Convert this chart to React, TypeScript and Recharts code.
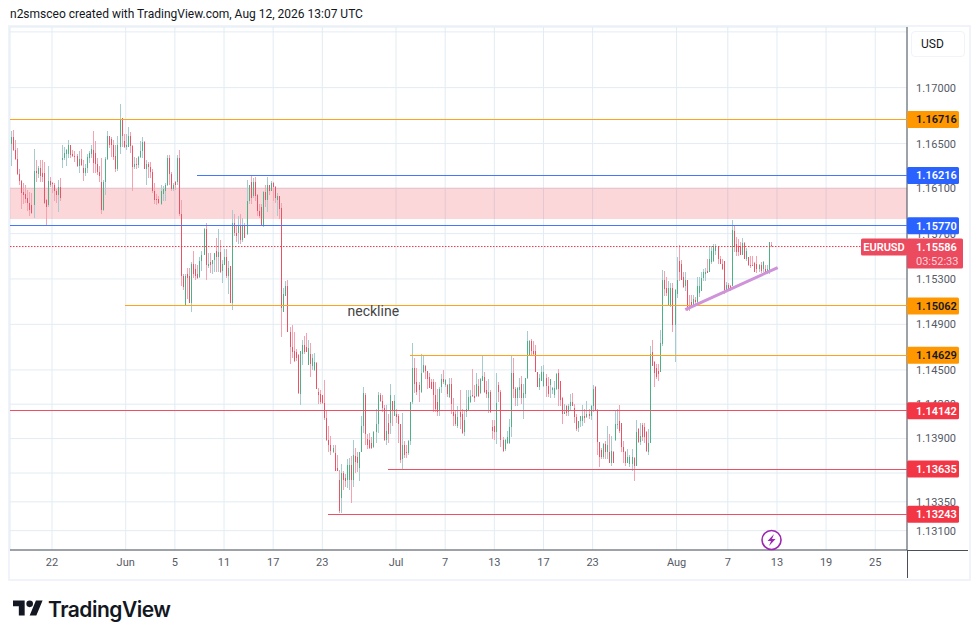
import { Bar, CartesianGrid, ComposedChart, ReferenceArea, ReferenceDot, ReferenceLine, XAxis, YAxis } from "recharts";

// 4h EURUSD candles, prices in 1/10000
const opens = [
  11650,11656,11644,11636,11623,11617,11607,11605,11602,11597,11595,11595,11626,11623,11628,11624,11624,11600,11595,11617,
  11615,11613,11608,11604,11611,11635,11637,11641,11641,11649,11641,11639,11639,11630,11636,11628,11624,11628,11637,11641,
  11644,11642,11632,11625,11616,11591,11616,11636,11657,11654,11649,11639,11627,11647,11673,11652,11647,11647,11657,11648,
  11629,11632,11631,11638,11643,11651,11627,11632,11629,11625,11608,11601,11601,11596,11605,11608,11613,11637,11623,11610,
  11616,11616,11637,11587,11533,11507,11534,11533,11509,11543,11539,11534,11532,11546,11551,11574,11541,11545,11543,11547,
  11555,11549,11554,11537,11542,11549,11533,11541,11509,11579,11571,11571,11577,11564,11578,11570,11599,11616,11603,11616,
  11604,11590,11594,11578,11607,11600,11613,11608,11615,11611,11600,11603,11593,11501,11515,11524,11483,11470,11467,11466,
  11463,11429,11464,11472,11470,11454,11464,11453,11450,11456,11431,11429,11428,11421,11408,11389,11384,11378,11377,11364,
  11354,11338,11360,11356,11354,11354,11367,11354,11375,11374,11364,11378,11401,11428,11390,11389,11386,11383,11396,11403,
  11428,11423,11417,11389,11404,11404,11423,11410,11411,11410,11403,11372,11384,11378,11377,11388,11422,11452,11439,11437,
  11431,11448,11453,11449,11444,11439,11439,11428,11422,11414,11435,11442,11437,11437,11426,11438,11413,11411,11401,11413,
  11411,11396,11413,11415,11422,11428,11427,11427,11436,11430,11440,11444,11432,11425,11431,11400,11401,11396,11437,11431,
  11389,11381,11386,11386,11400,11447,11433,11425,11432,11438,11425,11429,11443,11462,11475,11467,11467,11448,11435,11440,
  11436,11443,11436,11437,11432,11428,11433,11447,11440,11425,11411,11418,11413,11418,11422,11417,11409,11399,11405,11405,
  11410,11409,11411,11410,11418,11435,11415,11387,11380,11374,11385,11378,11378,11369,11378,11389,11402,11405,11404,11383,
  11378,11369,11368,11368,11373,11366,11398,11387,11402,11400,11396,11378,11386,11466,11457,11452,11449,11448,11473,11529,
  11522,11506,11507,11522,11489,11517,11546,11543,11532,11524,11529,11506,11510,11506,11511,11510,11518,11519,11531,11534,
  11537,11536,11545,11546,11555,11558,11548,11543,11546,11520,11525,11524,11524,11572,11561,11559,11559,11551,11562,11548,
  11549,11542,11542,11544,11543,11539,11542,11539,11539,11536,11536,11560,
];
const highs = [
  11661,11662,11653,11646,11627,11618,11615,11613,11609,11607,11606,11645,11635,11630,11635,11635,11634,11601,11630,11620,
  11616,11615,11610,11618,11619,11649,11647,11645,11653,11649,11644,11643,11641,11643,11645,11635,11632,11641,11643,11649,
  11661,11652,11637,11630,11637,11618,11638,11661,11657,11656,11653,11649,11657,11685,11673,11659,11659,11665,11660,11649,
  11638,11637,11639,11652,11656,11652,11635,11634,11634,11627,11615,11605,11603,11613,11612,11615,11640,11640,11625,11615,
  11617,11640,11644,11600,11534,11534,11540,11540,11545,11555,11543,11542,11549,11555,11575,11579,11553,11553,11547,11553,
  11566,11574,11564,11547,11556,11556,11546,11541,11591,11587,11577,11586,11587,11584,11579,11618,11613,11622,11619,11620,
  11605,11596,11596,11608,11613,11620,11613,11617,11616,11612,11606,11603,11597,11522,11528,11529,11488,11489,11483,11468,
  11464,11467,11476,11480,11482,11476,11474,11464,11465,11457,11434,11432,11428,11441,11414,11401,11392,11384,11384,11376,
  11363,11368,11362,11359,11372,11373,11375,11389,11382,11378,11378,11410,11435,11430,11394,11395,11391,11397,11416,11431,
  11430,11428,11419,11419,11411,11438,11423,11428,11416,11411,11403,11412,11388,11384,11389,11422,11474,11460,11452,11439,
  11464,11463,11454,11449,11447,11442,11442,11439,11433,11435,11446,11450,11442,11438,11443,11443,11425,11414,11418,11432,
  11416,11415,11432,11432,11432,11451,11437,11447,11442,11443,11462,11448,11440,11442,11432,11406,11406,11447,11439,11432,
  11391,11390,11397,11407,11463,11460,11435,11435,11443,11445,11438,11443,11484,11476,11477,11475,11472,11448,11446,11453,
  11454,11446,11444,11442,11435,11440,11447,11451,11440,11426,11420,11419,11420,11429,11430,11420,11411,11405,11410,11419,
  11416,11423,11416,11419,11437,11436,11416,11387,11382,11386,11388,11401,11394,11392,11379,11414,11416,11419,11404,11388,
  11379,11381,11376,11381,11374,11406,11399,11404,11404,11404,11397,11398,11471,11476,11458,11455,11455,11485,11538,11537,
  11532,11528,11526,11526,11521,11549,11560,11547,11536,11536,11529,11516,11516,11516,11514,11532,11532,11536,11539,11540,
  11548,11559,11559,11561,11561,11559,11550,11548,11546,11527,11526,11525,11582,11577,11567,11565,11563,11566,11563,11557,
  11549,11550,11550,11545,11550,11543,11545,11546,11542,11542,11563,11563,
];
const lows = [
  11630,11643,11635,11622,11613,11592,11596,11597,11590,11586,11587,11584,11616,11619,11616,11616,11596,11577,11594,11611,
  11606,11599,11597,11589,11599,11628,11635,11630,11637,11637,11638,11634,11629,11624,11630,11617,11621,11624,11633,11637,
  11624,11624,11622,11616,11587,11590,11604,11635,11646,11638,11635,11625,11626,11641,11647,11646,11644,11647,11642,11608,
  11627,11627,11628,11637,11637,11627,11613,11619,11619,11606,11596,11595,11596,11595,11599,11599,11612,11613,11608,11608,
  11609,11613,11586,11524,11520,11506,11512,11509,11501,11531,11529,11530,11531,11537,11551,11529,11540,11535,11534,11536,
  11536,11536,11535,11526,11542,11531,11517,11509,11503,11568,11563,11561,11561,11563,11566,11569,11596,11596,11602,11599,
  11586,11584,11577,11576,11594,11589,11604,11608,11599,11597,11586,11583,11479,11501,11515,11483,11455,11460,11457,11458,
  11429,11419,11454,11464,11466,11454,11444,11450,11449,11433,11420,11420,11420,11406,11388,11378,11376,11377,11362,11362,
  11325,11325,11345,11348,11347,11345,11334,11348,11360,11361,11353,11378,11395,11384,11381,11381,11381,11382,11386,11395,
  11422,11413,11388,11384,11386,11394,11401,11410,11404,11386,11369,11363,11373,11373,11376,11384,11420,11430,11428,11422,
  11430,11447,11442,11433,11434,11433,11413,11413,11410,11410,11430,11438,11435,11426,11425,11411,11401,11401,11399,11398,
  11394,11392,11409,11414,11421,11426,11422,11426,11426,11429,11440,11430,11425,11412,11412,11390,11389,11385,11422,11383,
  11378,11379,11385,11385,11391,11425,11418,11418,11425,11420,11407,11425,11442,11462,11462,11462,11448,11435,11432,11440,
  11435,11426,11426,11425,11429,11425,11432,11418,11418,11403,11411,11410,11410,11414,11418,11404,11397,11396,11400,11401,
  11404,11408,11407,11406,11413,11415,11376,11365,11372,11372,11372,11372,11369,11366,11369,11388,11398,11395,11378,11369,
  11366,11369,11365,11362,11353,11366,11386,11384,11388,11386,11378,11376,11386,11453,11435,11442,11440,11448,11471,11515,
  11515,11506,11505,11483,11457,11513,11528,11529,11522,11519,11502,11502,11504,11506,11506,11507,11514,11519,11528,11528,
  11535,11536,11543,11545,11551,11543,11543,11538,11517,11519,11519,11519,11524,11554,11550,11550,11551,11551,11548,11546,
  11541,11540,11541,11536,11535,11536,11535,11536,11534,11534,11534,11558,
];
const closes = [
  11656,11644,11636,11623,11617,11606,11604,11601,11597,11591,11588,11626,11624,11628,11621,11620,11597,11594,11617,11613,
  11614,11608,11604,11611,11602,11637,11642,11644,11649,11640,11639,11638,11630,11636,11631,11624,11628,11638,11642,11645,
  11633,11632,11625,11621,11591,11616,11636,11657,11649,11649,11638,11627,11649,11672,11657,11647,11649,11657,11648,11629,
  11632,11631,11638,11643,11651,11627,11632,11629,11625,11608,11600,11600,11597,11608,11610,11613,11637,11623,11610,11613,
  11613,11637,11587,11533,11523,11533,11531,11509,11543,11534,11533,11531,11546,11551,11574,11542,11543,11542,11547,11553,
  11549,11554,11536,11543,11549,11533,11540,11509,11579,11571,11568,11577,11564,11577,11566,11599,11613,11602,11616,11603,
  11590,11586,11578,11607,11600,11613,11608,11615,11611,11602,11603,11592,11504,11517,11524,11483,11470,11466,11458,11460,
  11430,11467,11472,11466,11466,11469,11455,11460,11457,11433,11428,11422,11421,11408,11389,11384,11379,11382,11362,11362,
  11327,11360,11354,11353,11367,11367,11354,11376,11370,11369,11378,11401,11430,11394,11384,11382,11382,11396,11403,11428,
  11423,11417,11389,11397,11394,11428,11414,11423,11409,11403,11371,11384,11376,11377,11388,11422,11452,11438,11431,11432,
  11447,11454,11449,11442,11434,11433,11428,11416,11413,11433,11442,11439,11441,11429,11438,11420,11410,11403,11409,11409,
  11395,11406,11416,11426,11427,11427,11425,11438,11427,11442,11445,11431,11429,11431,11413,11397,11396,11421,11431,11389,
  11379,11389,11391,11400,11447,11433,11425,11434,11435,11425,11430,11443,11475,11475,11467,11464,11448,11435,11443,11448,
  11448,11436,11429,11442,11434,11434,11446,11433,11424,11411,11413,11412,11418,11422,11418,11409,11398,11405,11410,11410,
  11408,11411,11410,11418,11433,11415,11387,11374,11374,11385,11378,11384,11369,11379,11369,11403,11403,11397,11383,11378,
  11369,11374,11374,11374,11366,11396,11387,11392,11391,11391,11379,11386,11464,11453,11447,11444,11446,11474,11529,11521,
  11518,11522,11522,11489,11520,11529,11536,11529,11523,11529,11503,11504,11506,11512,11510,11524,11524,11531,11536,11536,
  11535,11548,11555,11559,11559,11548,11543,11539,11520,11525,11521,11521,11573,11558,11554,11554,11551,11562,11548,11555,
  11542,11541,11541,11536,11539,11542,11537,11545,11536,11539,11563,11559,
];

// time axis: one slot per 4h bar, the empty slots are the future part of the chart
const slotCount = 438;
const dateTickSlots = [20, 56, 80, 104, 128, 152, 188, 212, 236, 260, 284, 325, 350, 374, 398, 422];
const dateTickLabels = ["22", "Jun", "5", "11", "17", "23", "Jul", "7", "13", "17", "23", "Aug", "7", "13", "19", "25"];

const priceTicks = [1.175, 1.17, 1.165, 1.161, 1.157, 1.153, 1.149, 1.145, 1.142, 1.139, 1.136, 1.1335, 1.131];
const hiddenPriceTicks = [1.175, 1.136]; // grid line only, label sits under the button / price tag
const priceDomain = [1.12933, 1.17544];

// horizontal levels drawn on the chart, a null start means the line runs the full width
const levelPrices = [1.16716, 1.16216, 1.1577, 1.15062, 1.14629, 1.14142, 1.13635, 1.13243];
const levelStartSlots = [null, 91, null, 56, 195, null, 184, 155];
const levelColors = ["#ff9800", "#2962ff", "#2962ff", "#ff9800", "#ff9800", "#f23645", "#f23645", "#f23645"];
const levelLineColors = ["#ffa31a", "#4576ff", "#4576ff", "#ffa31a", "#ffa31a", "#ec5064", "#ec5064", "#ec5064"];
const levelTextColors = ["#131722", "#ffffff", "#ffffff", "#131722", "#131722", "#ffffff", "#ffffff", "#ffffff"];

const zoneLow = 1.1583;
const zoneHigh = 1.1611;
const lastPrice = 1.15586;
const countdown = "03:52:33";
const trendSlots = [329, 374];
const trendPrices = [1.1503, 1.154];

const FONT = "Roboto, sans-serif";
const AXIS_X = 907;
const GREEN_BODY = "#4db185";
const GREEN_WICK = "#a6ccd0";
const RED_BODY = "#ec5265";
const RED_WICK = "#f5a3b0";

const candles = Array.from({ length: slotCount }, (_, i) => ({
  i,
  o: opens[i],
  h: highs[i],
  l: lows[i],
  c: closes[i],
}));

const wickRange = (d: any) => (d.h === undefined ? undefined : [d.l / 10000, d.h / 10000]);
const bodyRange = (d: any) =>
  d.h === undefined ? undefined : [Math.min(d.o, d.c) / 10000, Math.max(d.o, d.c) / 10000];

function CandlePart({ x, y, height, payload, up, down }: any) {
  if (!payload || payload.h === undefined) return null;
  return (
    <rect
      x={Math.round(x)}
      y={y}
      width={1}
      height={Math.max(height, 1)}
      fill={payload.c >= payload.o ? up : down}
      shapeRendering="crispEdges"
    />
  );
}

function PriceTag({ viewBox, value, fill, color }: any) {
  const y = viewBox.y;
  return (
    <g>
      <rect x={AXIS_X} y={y - 8.5} width={52} height={17} rx={1.5} fill={fill} />
      <text x={916} y={y + 4} fontSize={11} fontWeight={600} fontFamily={FONT} fill={color}>
        {value}
      </text>
    </g>
  );
}

function LastPriceTag({ viewBox }: any) {
  const y = viewBox.y;
  return (
    <g fontFamily={FONT} fontSize={11}>
      <rect x={861} y={y - 8} width={46} height={17} rx={1.5} fill="#ec4a5e" />
      <text x={884} y={y + 4} textAnchor="middle" fill="#fff" fontWeight={600}>
        EURUSD
      </text>
      <rect x={AXIS_X} y={y - 8} width={56} height={30} rx={1.5} fill="#ec4a5e" />
      <text x={916} y={y + 4} fill="#fff" fontWeight={600}>
        {lastPrice.toFixed(5)}
      </text>
      <text x={916} y={y + 18} fill="#fbd3d9">
        {countdown}
      </text>
    </g>
  );
}

function BoltMark({ cx, cy }: any) {
  return (
    <g>
      <circle cx={cx} cy={cy} r={9.5} fill="#fff" stroke="#9c27b0" strokeWidth={1.6} />
      <path
        d={`M${cx + 2.5} ${cy - 6} L${cx - 4} ${cy + 1} L${cx - 0.5} ${cy + 1} L${cx - 2.5} ${cy + 6} L${cx + 4} ${cy - 1} L${cx + 0.5} ${cy - 1} Z`}
        fill="#9c27b0"
      />
    </g>
  );
}

export default function App() {
  return (
    <div style={{ position: "absolute", left: 0, top: 0, width: 979, height: 639, background: "#fff", fontFamily: FONT }}>
      <div style={{ position: "absolute", left: 10, top: 7, fontSize: 12, color: "#131722", whiteSpace: "nowrap" }}>
        n2smsceo created with TradingView.com, Aug 12, 2026 13:07 UTC
      </div>
      <div style={{ position: "absolute", left: 8, top: 25, width: 959, height: 552, border: "2px solid #f0f3fa" }} />

      {/* candles, grid and axes */}
      <div style={{ position: "absolute", left: 0, top: 0 }}>
        <ComposedChart
          width={979}
          height={639}
          data={candles}
          margin={{ top: 27, right: 0, bottom: 61, left: 10 }}
          barSize={1}
          barGap={-1}
          barCategoryGap={0}
        >
          <CartesianGrid stroke="#e2ecf3" strokeWidth={1} />
          <XAxis
            dataKey="i"
            ticks={dateTickSlots}
            interval={0}
            height={28}
            tickSize={0}
            tickMargin={8}
            stroke="#4a4e59"
            tick={{ fontSize: 11, fill: "#555a66", fontFamily: FONT }}
            tickFormatter={(slot: number) => dateTickLabels[dateTickSlots.indexOf(slot)]}
          />
          <YAxis
            orientation="right"
            width={72}
            scale="log"
            domain={priceDomain}
            allowDataOverflow
            ticks={priceTicks}
            interval={0}
            tickSize={0}
            tickMargin={9}
            stroke="#4a4e59"
            tick={{ fontSize: 11, fill: "#555a66", fontFamily: FONT, textAnchor: "start" }}
            tickFormatter={(v: number) => (hiddenPriceTicks.includes(v) ? "" : v.toFixed(5))}
          />
          <ReferenceArea y1={zoneLow} y2={zoneHigh} fill="#f23645" fillOpacity={0.2} stroke="none" />
          <Bar
            dataKey={wickRange}
            isAnimationActive={false}
            shape={(p: any) => <CandlePart {...p} up={GREEN_WICK} down={RED_WICK} />}
          />
          <Bar
            dataKey={bodyRange}
            isAnimationActive={false}
            shape={(p: any) => <CandlePart {...p} up={GREEN_BODY} down={RED_BODY} />}
          />
        </ComposedChart>
      </div>

      {/* second layer with the same scales, so the price tags cover the axis labels */}
      <div style={{ position: "absolute", left: 0, top: 0 }}>
        <ComposedChart width={979} height={639} data={candles} margin={{ top: 27, right: 72, bottom: 89, left: 10 }}>
          <XAxis dataKey="i" hide />
          <YAxis hide scale="log" domain={priceDomain} allowDataOverflow />
          <ReferenceLine
            y={lastPrice}
            stroke="#f23645"
            strokeDasharray="1.5 1.5"
            label={(p: any) => <LastPriceTag {...p} />}
          />
          {levelPrices.map((price, n) => {
            const start = levelStartSlots[n];
            const place =
              start === null
                ? { y: price }
                : {
                    segment: [
                      { x: start, y: price },
                      { x: slotCount - 1, y: price },
                    ],
                  };
            return (
              <ReferenceLine
                key={price}
                {...place}
                stroke={levelLineColors[n]}
                shapeRendering="crispEdges"
                label={(p: any) => (
                  <PriceTag {...p} value={price.toFixed(5)} fill={levelColors[n]} color={levelTextColors[n]} />
                )}
              />
            );
          })}
          <ReferenceLine
            segment={[
              { x: trendSlots[0], y: trendPrices[0] },
              { x: trendSlots[1], y: trendPrices[1] },
            ]}
            stroke="#ce93d8"
            strokeWidth={3}
          />
          <ReferenceDot
            x={177}
            y={1.1502}
            r={0}
            stroke="none"
            label={{ value: "neckline", position: "center", fontSize: 14, fill: "#444", fontFamily: FONT }}
          />
          <ReferenceDot x={371} y={1.1302} shape={(p: any) => <BoltMark {...p} />} />
        </ComposedChart>
      </div>

      <div style={{ position: "absolute", left: 907, top: 550, width: 1, height: 28, background: "#4a4e59" }} />
      <div style={{ position: "absolute", left: 907, top: 550, width: 61, height: 1, background: "#4a4e59" }} />
      <div
        style={{
          position: "absolute",
          left: 911,
          top: 31,
          width: 43,
          height: 24,
          lineHeight: "25px",
          paddingLeft: 9,
          fontSize: 12,
          color: "#131722",
          background: "#fff",
          border: "1px solid #f0f3fa",
          borderRadius: 4,
        }}
      >
        USD
      </div>

      <svg style={{ position: "absolute", left: 12, top: 598 }} width={32} height={20} viewBox="0 1 36 24">
        <path d="M14 22H7V11H0V4h14v18zM28 22h-8l7.5-18h8L28 22z" fill="#131722" />
        <circle cx={20} cy={8} r={4} fill="#131722" />
      </svg>
      <div
        style={{
          position: "absolute",
          left: 48,
          top: 597,
          fontFamily: "Inter, sans-serif",
          fontSize: 21,
          fontWeight: 600,
          letterSpacing: -0.5,
          color: "#131722",
        }}
      >
        TradingView
      </div>
    </div>
  );
}
